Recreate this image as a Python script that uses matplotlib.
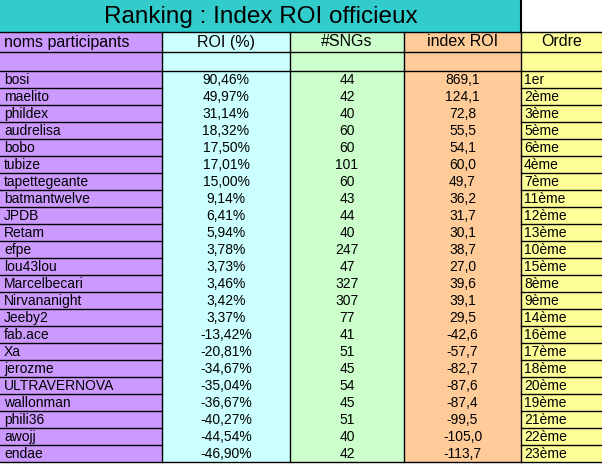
import matplotlib
matplotlib.use("Agg")
import matplotlib.pyplot as plt
from matplotlib.patches import Rectangle

plt.rcParams['font.family'] = ['Liberation Sans', 'DejaVu Sans']

title = "Ranking : Index ROI officieux"
headers = ["noms participants", "ROI (%)", "#SNGs", "index ROI", "Ordre"]

names = ["bosi", "maelito", "phildex", "audrelisa", "bobo", "tubize", "tapettegeante",
         "batmantwelve", "JPDB", "Retam", "efpe", "lou43lou", "Marcelbecari",
         "Nirvananight", "Jeeby2", "fab.ace", "Xa", "jerozme", "ULTRAVERNOVA",
         "wallonman", "phili36", "awojj", "endae"]
roi = [90.46, 49.97, 31.14, 18.32, 17.50, 17.01, 15.00, 9.14, 6.41, 5.94, 3.78, 3.73,
       3.46, 3.42, 3.37, -13.42, -20.81, -34.67, -35.04, -36.67, -40.27, -44.54, -46.90]
sngs = [44, 42, 40, 60, 60, 101, 60, 43, 44, 40, 247, 47, 327, 307, 77, 41, 51, 45,
        54, 45, 51, 40, 42]
index_roi = [869.1, 124.1, 72.8, 55.5, 54.1, 60.0, 49.7, 36.2, 31.7, 30.1, 38.7, 27.0,
             39.6, 39.1, 29.5, -42.6, -57.7, -82.7, -87.6, -87.4, -99.5, -105.0, -113.7]
ordre = ["1er", "2ème", "3ème", "5ème", "6ème", "4ème", "7ème", "11ème", "12ème",
         "13ème", "10ème", "15ème", "8ème", "9ème", "14ème", "16ème", "17ème", "18ème",
         "20ème", "19ème", "21ème", "22ème", "23ème"]

# layout (pixels)
col_x = [0, 162, 290, 404, 521, 602]
col_colors = ["#CC99FF", "#CCFFFF", "#CCFFCC", "#FFCC99", "#FFFF99"]
title_h = 32
head_top, head_bot, blank_bot = 32, 52, 71
row_h = 17.0
n = len(names)
bottom = blank_bot + n * row_h

fig = plt.figure(figsize=(6.02, 4.70), dpi=100)
ax = fig.add_axes([0, 0, 1, 1])
ax.set_xlim(0, 602)
ax.set_ylim(470, 0)
ax.axis("off")

# title cell
ax.add_patch(Rectangle((0, 0), col_x[4], title_h, facecolor="#33CCCC", edgecolor="none"))
ax.text(col_x[4] / 2, title_h / 2 + 1, title, fontsize=17.5, ha="center", va="center")

# column backgrounds
for j in range(5):
    ax.add_patch(Rectangle((col_x[j], head_top), col_x[j + 1] - col_x[j], bottom - head_top,
                           facecolor=col_colors[j], edgecolor="none"))

# headers
for j, h in enumerate(headers):
    if j == 0:
        ax.text(col_x[0] + 4, (head_top + head_bot) / 2, h, fontsize=11.5, ha="left", va="center")
    else:
        ax.text((col_x[j] + col_x[j + 1]) / 2, (head_top + head_bot) / 2, h, fontsize=11.5,
                ha="center", va="center")

fs = 10
for i in range(n):
    yc = blank_bot + (i + 0.5) * row_h + 0.5
    ax.text(col_x[0] + 4, yc, names[i], fontsize=fs, ha="left", va="center")
    ax.text((col_x[1] + col_x[2]) / 2, yc, f"{roi[i]:.2f}%".replace(".", ","),
            fontsize=fs, ha="center", va="center")
    ax.text((col_x[2] + col_x[3]) / 2, yc, str(sngs[i]), fontsize=fs, ha="center", va="center")
    ax.text((col_x[3] + col_x[4]) / 2, yc, f"{index_roi[i]:.1f}".replace(".", ","),
            fontsize=fs, ha="center", va="center")
    ax.text(col_x[4] + 3, yc, ordre[i], fontsize=fs, ha="left", va="center")

lw = 1.0
# horizontal lines across the table
for y in [title_h, head_bot, blank_bot, bottom]:
    ax.plot([0, 602], [y, y], color="black", lw=lw)
# row lines in names and ordre columns
for i in range(1, n):
    y = blank_bot + i * row_h
    ax.plot([col_x[0], col_x[1]], [y, y], color="black", lw=lw)
    ax.plot([col_x[4], col_x[5]], [y, y], color="black", lw=lw)
# vertical lines
for x in col_x[1:5]:
    ax.plot([x, x], [head_top, bottom], color="black", lw=lw)
ax.plot([col_x[4], col_x[4]], [0, title_h], color="black", lw=1.5)

fig.savefig("out.png", dpi=100)
